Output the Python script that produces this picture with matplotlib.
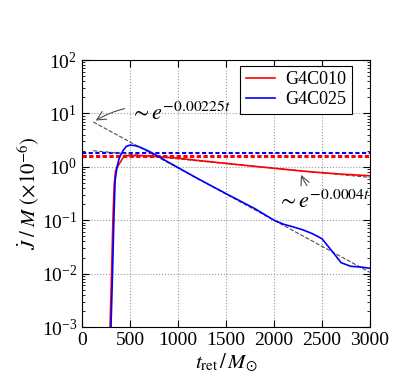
import numpy as np
import matplotlib
matplotlib.use('Agg')
import matplotlib.pyplot as plt

plt.rcParams['font.family'] = 'serif'
plt.rcParams['font.serif'] = ['Liberation Serif', 'DejaVu Serif']
plt.rcParams['mathtext.fontset'] = 'stix'

# courbes
t_g4c010 = [270, 292, 308, 322, 335, 350, 370, 396, 425, 450, 500, 600, 700, 800,
            1000, 1200, 1500, 1800, 2100, 2400, 2700, 3000]
j_g4c010 = [1e-4, 1e-3, 1e-2, 0.1, 0.45, 0.85, 1.0, 1.2, 1.45, 1.6, 1.62, 1.62, 1.6, 1.55,
            1.45, 1.32, 1.16, 1.02, 0.9, 0.8, 0.73, 0.68]

t_g4c025 = [285, 302, 318, 332, 345, 365, 390, 427, 460, 500, 550, 600, 700, 800, 900,
            1000, 1200, 1500, 1800, 2000, 2100, 2200, 2300, 2400, 2500, 2600, 2700,
            2800, 2900, 3000]
j_g4c025 = [1e-4, 1e-3, 1e-2, 0.1, 0.55, 1.0, 1.5, 2.0, 2.4, 2.55, 2.5, 2.35, 1.95, 1.55,
            1.22, 0.97, 0.61, 0.315, 0.165, 0.10, 0.084, 0.075, 0.066, 0.056, 0.045, 0.027,
            0.016, 0.0137, 0.0133, 0.0126]

# niveaux horizontaux
niv_g4c010 = 1.57
niv_g4c025 = 1.78

# ajustements exponentiels
a_rapide, k_rapide = 9.0, 0.00225
a_lent, k_lent = 2.1, 0.0004
t_fit = np.linspace(118, 3000, 200)

fig = plt.figure(figsize=(4.11, 3.77), dpi=100)
ax = fig.add_axes([0.1995, 0.1326, 0.7007, 0.7082])

ax.axhline(niv_g4c010, color='r', ls='--', lw=2.2, dashes=(1.4, 0.8))
ax.axhline(niv_g4c025, color='b', ls='--', lw=1.5, dashes=(2, 1.2))

ax.plot(t_fit, a_rapide*np.exp(-k_rapide*t_fit), '--', color='0.3', lw=0.8)
ax.plot(t_fit, a_lent*np.exp(-k_lent*t_fit), '--', color='0.3', lw=0.8)

ax.plot(t_g4c010, j_g4c010, 'r', lw=1.2, label='G4C010')
ax.plot(t_g4c025, j_g4c025, 'b', lw=1.2, label='G4C025')

ax.set_yscale('log')
ax.set_xlim(0, 3000)
ax.set_ylim(1e-3, 1e2)
ax.set_xticks(np.arange(0, 3001, 500))
ax.tick_params(which='both', direction='in', top=True, right=True, labelsize=14)
ax.tick_params(which='major', length=5)
ax.tick_params(which='minor', length=2.5)
ax.grid(True, which='major', ls=':', color='0.6', lw=0.8)

ax.set_xlabel(r'$t_{\rm ret}\,/\,M_{\odot}$', fontsize=15, labelpad=2)
ax.set_ylabel(r'$\dot{J}\;/\;M\ (\times10^{-6})$', fontsize=15, labelpad=0)

ax.annotate(r'$\sim e^{-0.00225t}$', xy=(118, 6.9), xytext=(500, 10),
            ha='left', va='center', fontsize=16,
            arrowprops=dict(arrowstyle='->', color='0.3', lw=0.8,
                            connectionstyle='arc3,rad=0.25'))
ax.annotate(r'$\sim e^{-0.0004t}$', xy=(2270, 0.79), xytext=(2030, 0.22),
            ha='left', va='center', fontsize=16,
            arrowprops=dict(arrowstyle='->', color='0.3', lw=0.8,
                            connectionstyle='arc3,rad=-0.15'))

leg = ax.legend(loc='upper right', bbox_to_anchor=(0.9375, 0.9775), borderaxespad=0,
                fontsize=13, fancybox=False, edgecolor='k', framealpha=1,
                handlelength=1.6, handletextpad=0.6, borderpad=0.3, labelspacing=0.15)
leg.get_frame().set_linewidth(0.8)

plt.savefig('out.png', dpi=100)
